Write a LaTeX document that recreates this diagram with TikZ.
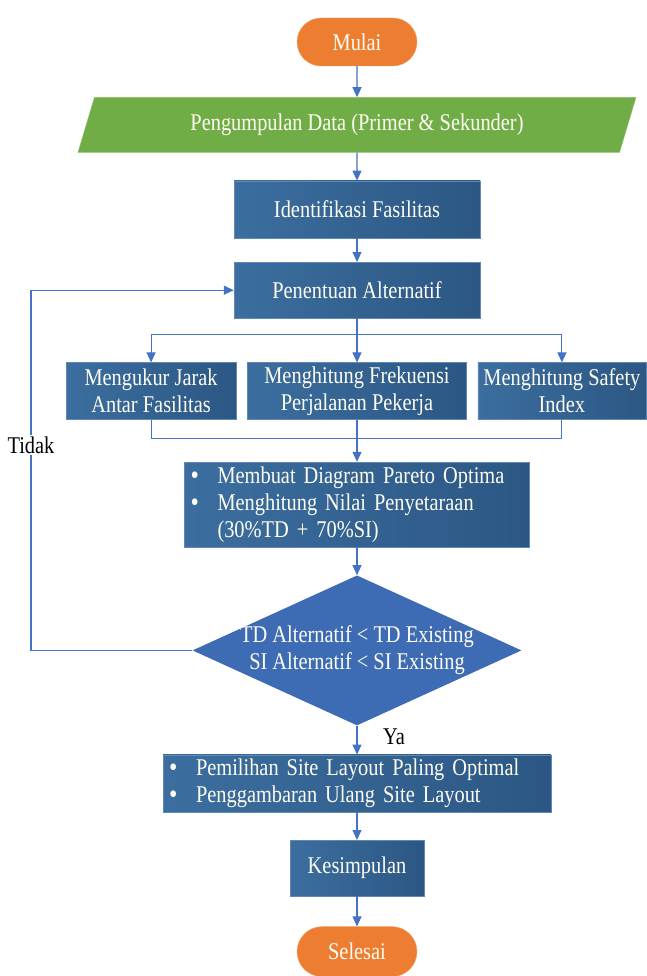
\documentclass[tikz,border=0pt]{standalone}
\usepackage{fontspec}
\setmainfont{Liberation Serif}[FakeStretch=0.85]
\usetikzlibrary{positioning,shapes.geometric,arrows.meta}
\definecolor{oranye}{HTML}{ED7D31}
\definecolor{oranyegaris}{HTML}{F4A36B}
\definecolor{hijau}{HTML}{70AD47}
\definecolor{hijaugaris}{HTML}{8DC06A}
\definecolor{biruA}{HTML}{3B6E9F}
\definecolor{biruB}{HTML}{2C5784}
\definecolor{birugaris}{HTML}{5F88B5}
\definecolor{birukep}{HTML}{3D6CB4}
\definecolor{panahbiru}{HTML}{4472C4}
\definecolor{putih}{HTML}{FFFDF2}
\newcommand\butir{\hspace*{4pt}\makebox[27pt][l]{\smash{\raisebox{-1pt}{\fontsize{28}{27}\selectfont\textbullet}}}}
\begin{document}
\begin{tikzpicture}[x=1pt, y=-1pt, font=\fontsize{24}{27}\selectfont,
    terminal/.style={rectangle, rounded corners=24pt, fill=oranye, draw=oranyegaris,
      minimum width=120pt, minimum height=48pt, text=putih},
    masukan/.style={trapezium, trapezium left angle=60, trapezium right angle=120,
      trapezium stretches body, fill=hijau, draw=hijaugaris,
      minimum width=558pt, minimum height=55pt, text=putih},
    proses/.style={rectangle, left color=biruA, right color=biruB, draw=birugaris,
      minimum height=57pt, inner sep=2pt, text=putih, align=center},
    keputusan/.style={diamond, fill=birukep, minimum width=329pt,
      minimum height=150pt, inner sep=0pt},
    garis/.style={color=panahbiru, line width=1.1pt},
    panah/.style={garis, -{Triangle[length=10pt,width=9pt]}}]

    \useasboundingbox (0,0) rectangle (646,976);

    \node[terminal] (mulai) at (357,42) {Mulai};
    \node[masukan] (data) [below=31pt of mulai] {Pengumpulan Data (Primer \& Sekunder)};
    \node[proses, minimum width=246pt] (ident) [below=28pt of data] {Identifikasi Fasilitas};
    \node[proses, minimum width=246pt, minimum height=56pt] (tentu) [below=24pt of ident] {Penentuan Alternatif};
    \node[proses, minimum width=219pt] (frek) [below=44pt of tentu] {Menghitung Frekuensi\\Perjalanan Pekerja};
    \node[proses, minimum width=170pt] (jarak) [left=11pt of frek] {Mengukur Jarak\\Antar Fasilitas};
    \node[proses, minimum width=168pt] (safety) [right=11pt of frek] {Menghitung Safety\\Index};
    \node[proses, minimum width=345pt, minimum height=85pt, text width=341pt, align=left] (pareto) [below=42pt of frek]
      {\butir Membuat Diagram Pareto Optima\\\butir Menghitung Nilai Penyetaraan\\\hspace*{31pt}(30\%TD + 70\%SI)};
    \node[keputusan] (cek) [below=28pt of pareto] {};
    \node[text=putih, align=center] (cekteks) at (cek) {TD Alternatif < TD Existing\\SI Alternatif < SI Existing};
    \node[proses, minimum width=388pt, text width=384pt, align=left] (pilih) [below=29pt of cek]
      {\butir Pemilihan Site Layout Paling Optimal\\\butir Penggambaran Ulang Site Layout};
    \node[proses, minimum width=134pt, minimum height=56pt] (simpul) [below=28pt of pilih] {Kesimpulan};
    \node[terminal, minimum height=50pt, rounded corners=25pt] (selesai) [below=30pt of simpul] {Selesai};

    \node[fill=white, inner sep=1pt] (tidak) at (31,445) {Tidak};
    \node (ya) at (394,737) {Ya};

    \coordinate[below=16pt of tentu] (cabang);
    \coordinate[below=19pt of frek] (gabung);

    \path[panah]
    (mulai) edge (data)
    (data) edge (ident)
    (ident) edge (tentu)
    (pareto) edge (cek)
    (cek) edge (pilih)
    (pilih) edge (simpul)
    (simpul) edge (selesai);

    \draw[garis] (tentu) -- (cabang);
    \draw[panah] (cabang) -| (jarak);
    \draw[panah] (cabang) -- (frek);
    \draw[panah] (cabang) -| (safety);
    \draw[garis] (jarak) |- (gabung);
    \draw[garis] (safety) |- (gabung);
    \draw[garis] (frek) -- (gabung);
    \draw[panah] (gabung) -- (pareto);

    \draw[garis] (cek) -| (tidak);
    \draw[panah] (tidak) |- (tentu);
  \end{tikzpicture}
\end{document}
